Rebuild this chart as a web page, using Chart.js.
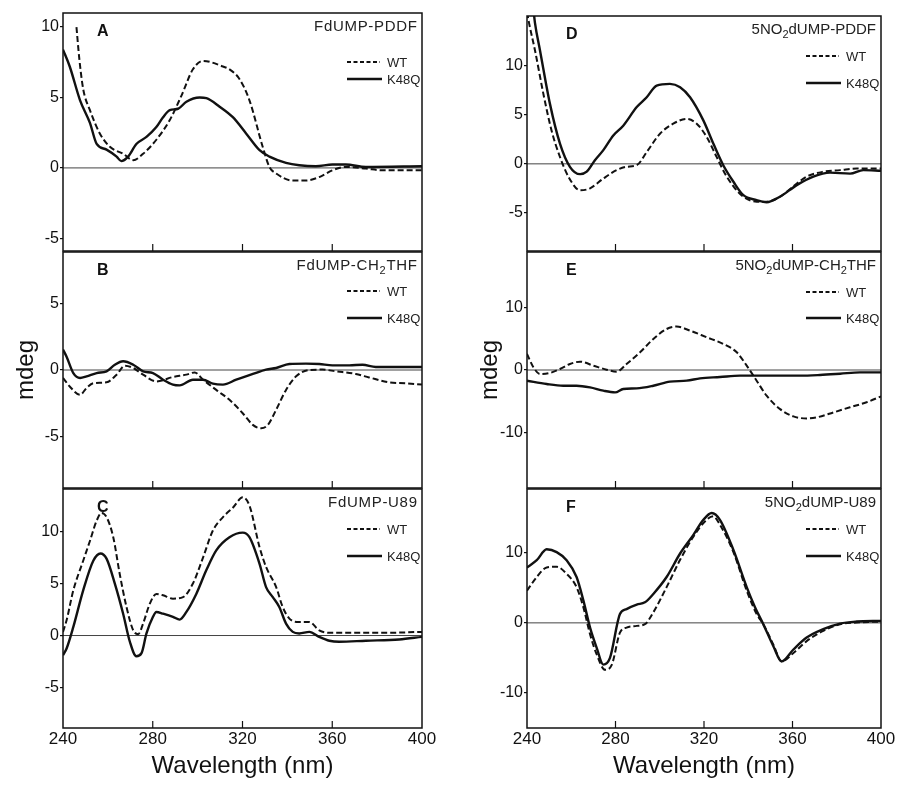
<!DOCTYPE html>
<html>
<head>
<meta charset="utf-8">
<script src="https://cdn.jsdelivr.net/npm/chart.js@4.4.0/dist/chart.umd.min.js"></script>
<style>
  body { margin: 0; background: #fff; }
  #fig { position: relative; width: 904px; height: 789px; overflow: hidden; }
  #fig canvas { position: absolute; }
</style>
</head>
<body>
<div id="fig"></div>
<script>
// Eje x comun
const xTicks = [240, 280, 320, 360, 400]

// Panel A: FdUMP-PDDF
const wlA_wt = [246, 247.3, 249, 252, 256.4, 260.9, 266.8, 271.3, 275.7, 281.6, 287.6, 292.7, 297.9, 302.4, 311.3, 314.2, 318.7, 323.1, 329, 332, 335, 342.4, 348.3, 354.2, 360.1, 366, 375, 382.4, 400]
const cdA_wt = [10, 7.7, 5.6, 4.1, 2.45, 1.5, 1.0, 0.55, 1.0, 2.0, 3.4, 5.1, 7.0, 7.6, 7.2, 7.0, 6.3, 4.8, 1.5, 0.07, -0.4, -0.9, -0.9, -0.65, -0.17, 0.07, -0.05, -0.17, -0.17]
const wlA_mut = [240, 243, 247.6, 252, 255, 259.4, 263.9, 266, 269, 272.7, 277.2, 281.6, 284.6, 287.6, 291.3, 295, 300.9, 303.9, 309.8, 315.7, 321.6, 327.6, 332, 339.4, 345.3, 352.7, 360.1, 366, 375, 400]
const cdA_mut = [8.4, 7.2, 4.8, 3.2, 1.7, 1.3, 0.8, 0.48, 0.8, 1.7, 2.2, 2.9, 3.6, 4.1, 4.2, 4.7, 5.0, 4.95, 4.35, 3.6, 2.45, 1.26, 0.8, 0.36, 0.19, 0.12, 0.24, 0.24, 0.07, 0.12]
const ticksA = [-5, 0, 5, 10]

// Panel B: FdUMP-CH2THF
const wlB_wt = [240, 243, 247.6, 250.5, 253.5, 259.4, 263.9, 267.6, 271.3, 275.7, 281.6, 289, 295, 298.7, 302.4, 308.3, 314.2, 320.1, 324.6, 328.3, 331.3, 335, 339.4, 343.9, 349.8, 355.7, 361.6, 370.5, 376.4, 385.3, 392.7, 400]
const cdB_wt = [-0.6, -1.24, -1.87, -1.36, -1.0, -0.93, -0.35, 0.33, 0.15, -0.35, -0.86, -0.53, -0.35, -0.18, -0.73, -1.5, -2.25, -3.26, -4.14, -4.4, -4.14, -3.0, -1.5, -0.48, 0, 0.03, -0.1, -0.3, -0.56, -0.93, -1.0, -1.1]
const wlB_mut = [240, 241.6, 244.6, 247.6, 250.5, 255, 259.4, 263.1, 266.8, 271.3, 275.7, 280.1, 284.6, 289, 292, 297.9, 302.4, 306.8, 311.3, 317.2, 324.6, 330.5, 335, 340.9, 348.3, 354.2, 360.1, 367.6, 373.5, 379.4, 386.8, 400]
const cdB_mut = [1.54, 1.0, -0.23, -0.6, -0.48, -0.23, -0.1, 0.4, 0.66, 0.4, -0.1, -0.23, -0.73, -1.1, -1.16, -0.73, -0.73, -1.03, -1.1, -0.73, -0.3, 0.03, 0.15, 0.45, 0.48, 0.45, 0.35, 0.35, 0.4, 0.23, 0.23, 0.23]
const ticksB = [-5, 0, 5]

// Panel C: FdUMP-U89
const wlC_wt = [240, 241.6, 244.6, 249, 252, 255, 257.2, 259.4, 262.4, 265.3, 268.3, 271.3, 273.5, 275.7, 278.7, 281.6, 284.6, 289, 293.5, 297.9, 302.4, 306.8, 311.3, 315.7, 320.1, 323.1, 327.6, 330.5, 335, 337.9, 340.9, 345.3, 349.8, 354.2, 358.7, 367.6, 382.4, 400]
const cdC_wt = [0.35, 1.47, 4.35, 7.2, 9.1, 11.05, 11.8, 11.4, 9.46, 5.9, 2.75, 0.5, 0.13, 1.15, 3.07, 4.0, 3.87, 3.55, 3.7, 5.0, 7.5, 10.1, 11.4, 12.3, 13.3, 12.5, 8.5, 6.6, 4.66, 2.75, 1.63, 1.3, 1.3, 0.5, 0.26, 0.26, 0.26, 0.35]
const wlC_mut = [240, 241.6, 244.6, 249, 253.5, 256.7, 259.4, 263.1, 266.8, 269.8, 272.7, 275, 277.2, 280.1, 281.6, 284.6, 289, 292, 295, 299.4, 303.9, 308.3, 314.2, 320.1, 323.1, 327.6, 330.5, 333.5, 336.4, 339.4, 342.4, 345.3, 349.8, 354.2, 358.7, 363.1, 375, 389.8, 400]
const cdC_mut = [-1.9, -1.25, 0.83, 4.35, 7.2, 7.9, 7.4, 5.0, 2.1, -0.6, -2.0, -1.7, 0.2, 1.8, 2.27, 2.1, 1.8, 1.53, 2.27, 4.0, 6.3, 8.2, 9.46, 9.9, 9.46, 6.9, 4.66, 3.7, 2.75, 1.15, 0.35, 0.2, 0.35, -0.13, -0.5, -0.6, -0.5, -0.38, -0.13]
const ticksC = [-5, 0, 5, 10]

// Panel D: 5NO2dUMP-PDDF
const wlD_wt = [240, 241, 243.6, 247.4, 251.1, 254.9, 258.7, 264, 268.5, 274.5, 280.5, 285, 289.6, 294.1, 300.1, 306.1, 312.2, 316.7, 321.2, 325.7, 329.5, 333.3, 337.8, 343.8, 348.3, 354.3, 360.4, 366.4, 373.9, 381.5, 389, 400]
const cdD_wt = [15.5, 14.3, 11.6, 7.15, 3.4, 0.7, -1.3, -2.7, -2.5, -1.5, -0.64, -0.3, -0.14, 1.2, 3.08, 4.1, 4.6, 4.1, 2.75, 0.71, -1.0, -2.3, -3.36, -3.86, -3.86, -3.36, -2.3, -1.3, -0.8, -0.64, -0.47, -0.47]
const wlD_mut = [242.8, 243.6, 245.9, 250.4, 254.9, 259.4, 264, 267, 270.7, 274.5, 279, 283.5, 289.6, 294.1, 298.6, 304.6, 309.2, 313.7, 319.7, 324.2, 328.7, 333.3, 337.8, 343.8, 348.3, 354.3, 361.9, 369.4, 377, 386, 392, 400]
const cdD_mut = [16, 14.4, 11.56, 6.1, 2.07, -0.3, -1.05, -0.8, 0.37, 1.4, 2.9, 3.9, 5.8, 6.8, 8.0, 8.17, 7.83, 6.8, 4.44, 2.07, -0.14, -1.83, -3.2, -3.7, -3.93, -3.36, -2.17, -1.3, -0.9, -1.0, -0.64, -0.7]
const ticksD = [-5, 0, 5, 10]

// Panel E: 5NO2dUMP-CH2THF
const wlE_wt = [240, 242.9, 245.9, 250.4, 254.9, 259.4, 264, 270, 276, 280.5, 285, 291.1, 297.1, 303.1, 307.6, 313.7, 321.2, 328.7, 334.8, 339.3, 343.8, 348.3, 354.4, 360.4, 366.4, 370.9, 378.5, 386, 393.5, 400]
const cdE_wt = [2.6, 0.43, -0.65, -0.48, 0.16, 0.97, 1.34, 0.7, 0.05, -0.27, 0.97, 2.85, 5.0, 6.6, 7.0, 6.34, 5.27, 4.2, 2.85, 0.7, -1.72, -4.14, -6.3, -7.47, -7.8, -7.63, -6.83, -6.0, -5.2, -4.25]
const wlE_mut = [240, 248.9, 256.4, 262.4, 268.5, 274.5, 279.8, 283.5, 289.6, 297.1, 304.6, 312.2, 318.2, 327.2, 336.3, 345.3, 354.4, 363.4, 372.4, 381.5, 390.5, 400]
const cdE_mut = [-1.72, -2.26, -2.53, -2.53, -2.8, -3.33, -3.6, -3.06, -2.96, -2.53, -1.88, -1.72, -1.34, -1.13, -0.91, -0.91, -0.91, -0.91, -0.8, -0.6, -0.38, -0.38]
const ticksE = [-10, 0, 10]

// Panel F: 5NO2dUMP-U89
const wlF_wt = [240, 244.4, 248.9, 253.4, 257.9, 262.4, 265.5, 268.5, 271.5, 275.3, 278.3, 282, 285, 289.6, 293.3, 297.1, 303.1, 309.2, 315.2, 321.2, 324.2, 327.2, 333.3, 339.3, 343.8, 346.8, 351.3, 355.1, 360.4, 366.4, 373.9, 381.5, 389, 400]
const cdF_wt = [4.6, 6.54, 7.9, 8.0, 7.0, 5.1, 2.2, -1.63, -4.5, -6.7, -6.0, -1.4, -0.67, -0.43, -0.19, 1.5, 5.1, 9.0, 12.3, 14.7, 15.2, 14.0, 10.1, 4.6, 1.25, -0.19, -3.08, -5.5, -4.3, -2.6, -1.15, -0.19, 0.05, 0.19]
const wlF_mut = [240, 244.4, 248.9, 253.4, 257.9, 262.4, 265.5, 268.5, 271.5, 274.5, 277.5, 282, 285, 289.6, 293.3, 297.1, 303.1, 309.2, 315.2, 319.7, 323.5, 327.2, 333.3, 339.3, 343.1, 346.8, 351.3, 355.1, 360.4, 366.4, 373.9, 381.5, 389, 400]
const cdF_mut = [7.9, 8.94, 10.5, 10.1, 8.94, 6.54, 3.17, -0.67, -3.56, -5.96, -5.0, 1.25, 1.97, 2.6, 2.93, 4.13, 6.54, 9.9, 12.55, 14.7, 15.67, 14.7, 10.4, 5.1, 2.2, -0.19, -3.3, -5.5, -3.8, -2.1, -0.9, -0.1, 0.19, 0.29]
const ticksF = [-10, 0, 10]

Chart.defaults.font.family = '"Liberation Sans", Arial, sans-serif'
Chart.defaults.color = '#111'

const FONT = '"Liberation Sans", Arial, sans-serif'

// Layout de los seis paneles (posicion del canvas en la pagina)
const panels = [
  { letter: 'A', title: 'FdUMP-PDDF', left: 0, top: 11, w: 442, h: 242, yMin: -5.9, yMax: 11, yTicks: ticksA,
    wt: [wlA_wt, cdA_wt], mut: [wlA_mut, cdA_mut], legY: [49, 66], col: 0 },
  { letter: 'B', title: 'FdUMP-CH₂THF', left: 0, top: 250, w: 442, h: 240, yMin: -8.9, yMax: 8.9, yTicks: ticksB,
    wt: [wlB_wt, cdB_wt], mut: [wlB_mut, cdB_mut], legY: [39, 66], col: 0, yTitle: true },
  { letter: 'C', title: 'FdUMP-U89', left: 0, top: 487, w: 442, h: 302, yMin: -8.9, yMax: 14.1, yTicks: ticksC,
    wt: [wlC_wt, cdC_wt], mut: [wlC_mut, cdC_mut], legY: [40, 67], col: 0, bottom: true },
  { letter: 'D', title: '5NO₂dUMP-PDDF', left: 464, top: 14, w: 437, h: 239, yMin: -8.9, yMax: 15.1, yTicks: ticksD,
    wt: [wlD_wt, cdD_wt], mut: [wlD_mut, cdD_mut], legY: [40, 67], col: 1 },
  { letter: 'E', title: '5NO₂dUMP-CH₂THF', left: 464, top: 250, w: 437, h: 240, yMin: -19, yMax: 19, yTicks: ticksE,
    wt: [wlE_wt, cdE_wt], mut: [wlE_mut, cdE_mut], legY: [40, 66], col: 1, yTitle: true },
  { letter: 'F', title: '5NO₂dUMP-U89', left: 464, top: 487, w: 437, h: 302, yMin: -15, yMax: 19.1, yTicks: ticksF,
    wt: [wlF_wt, cdF_wt], mut: [wlF_mut, cdF_mut], legY: [40, 67], col: 1, bottom: true }
]

// Texto con subindices (₂) dibujado a la derecha
function drawTitle(ctx, text, right, base, size, spacing) {
  const parts = [...text].map(ch => ch === '₂' ? { t: '2', sub: true } : { t: ch, sub: false })
  const big = size + 'px ' + FONT
  const small = Math.round(size * 0.72) + 'px ' + FONT
  let total = 0
  parts.forEach(p => {
    ctx.font = p.sub ? small : big
    p.w = ctx.measureText(p.t).width + spacing
    total += p.w
  })
  let xx = right - total + spacing
  ctx.textAlign = 'left'
  ctx.textBaseline = 'alphabetic'
  parts.forEach(p => {
    ctx.font = p.sub ? small : big
    ctx.fillText(p.t, xx, base + (p.sub ? 4 : 0))
    xx += p.w
  })
}

const panelDecor = {
  id: 'panelDecor',
  beforeDatasetsDraw(chart, args, opts) {
    const { ctx, chartArea: a, scales: { y } } = chart
    const y0 = y.getPixelForValue(0)
    ctx.save()
    ctx.strokeStyle = '#444'
    ctx.lineWidth = 1
    ctx.beginPath()
    ctx.moveTo(a.left, y0)
    ctx.lineTo(a.right, y0)
    ctx.stroke()
    ctx.restore()
  },
  afterDraw(chart, args, opts) {
    const { ctx, chartArea: a, scales: { x } } = chart
    ctx.save()
    // marco
    ctx.strokeStyle = '#111'
    ctx.lineWidth = 1.5
    ctx.strokeRect(a.left, a.top, a.right - a.left, a.bottom - a.top)
    // ticks internos en el eje x
    ctx.lineWidth = 1.2
    x.ticks.map(t => t.value).filter(v => v > x.min && v < x.max).forEach(v => {
      const px = x.getPixelForValue(v)
      ctx.beginPath()
      ctx.moveTo(px, a.bottom)
      ctx.lineTo(px, a.bottom - 7)
      ctx.stroke()
    })
    // letra del panel
    ctx.fillStyle = '#111'
    ctx.font = 'bold 16px ' + FONT
    ctx.textAlign = 'left'
    ctx.textBaseline = 'alphabetic'
    ctx.fillText(opts.letter, a.left + (opts.col ? 39 : 34), a.top + 23)
    // titulo
    ctx.fillStyle = '#222'
    drawTitle(ctx, opts.title, a.right - 5, a.top + 18, 15, opts.col ? 0 : 0.7)
    // leyenda
    const [yWt, yMut] = opts.legY
    ctx.strokeStyle = '#111'
    ctx.lineWidth = 2
    ctx.setLineDash([4, 2.5])
    ctx.beginPath()
    ctx.moveTo(a.right - 75, a.top + yWt)
    ctx.lineTo(a.right - 42, a.top + yWt)
    ctx.stroke()
    ctx.setLineDash([])
    ctx.lineWidth = 2.6
    ctx.beginPath()
    ctx.moveTo(a.right - 75, a.top + yMut)
    ctx.lineTo(a.right - 40, a.top + yMut)
    ctx.stroke()
    ctx.font = '13px ' + FONT
    ctx.textBaseline = 'middle'
    ctx.fillText('WT', a.right - 35, a.top + yWt + 1)
    ctx.fillText('K48Q', a.right - 35, a.top + yMut + 1)
    ctx.restore()
  }
}

function toPoints(xs, ys) {
  return xs.map((v, i) => ({ x: v, y: ys[i] }))
}

// quitar el relleno que Chart.js reserva para las etiquetas extremas
function noPad(s) {
  s.paddingTop = 0
  s.paddingBottom = 0
  s.paddingLeft = 0
  s.paddingRight = 0
}

const fig = document.getElementById('fig')

panels.forEach(p => {
  const cv = document.createElement('canvas')
  cv.width = p.w
  cv.height = p.h
  cv.style.left = p.left + 'px'
  cv.style.top = p.top + 'px'
  cv.style.width = p.w + 'px'
  cv.style.height = p.h + 'px'
  fig.appendChild(cv)

  new Chart(cv, {
    type: 'line',
    data: {
      datasets: [
        {
          label: 'WT',
          data: toPoints(p.wt[0], p.wt[1]),
          borderColor: '#111',
          borderWidth: 2,
          borderDash: [6, 3],
          pointRadius: 0,
          cubicInterpolationMode: 'monotone',
          fill: false
        },
        {
          label: 'K48Q',
          data: toPoints(p.mut[0], p.mut[1]),
          borderColor: '#111',
          borderWidth: 2.4,
          pointRadius: 0,
          cubicInterpolationMode: 'monotone',
          fill: false
        }
      ]
    },
    options: {
      responsive: false,
      animation: false,
      devicePixelRatio: 1,
      layout: { padding: { top: 2, right: 20, bottom: p.bottom ? 0 : 2, left: 0 } },
      plugins: {
        legend: { display: false },
        tooltip: { enabled: false },
        panelDecor: { letter: p.letter, title: p.title, legY: p.legY, col: p.col }
      },
      scales: {
        x: {
          type: 'linear',
          min: 240,
          max: 400,
          afterBuildTicks: s => { s.ticks = xTicks.map(v => ({ value: v })) },
          afterFit: s => { s.height = p.bottom ? 61 : 0; noPad(s) },
          grid: { display: false, drawTicks: false },
          border: { display: false },
          ticks: { display: !!p.bottom, padding: 1, font: { size: 17 }, color: '#111', maxRotation: 0 },
          title: { display: !!p.bottom, text: 'Wavelength (nm)', font: { size: 24 }, color: '#111', padding: { top: 0, bottom: 8 } }
        },
        y: {
          type: 'linear',
          min: p.yMin,
          max: p.yMax,
          afterBuildTicks: s => { s.ticks = p.yTicks.map(v => ({ value: v })) },
          afterFit: s => { s.width = 63; noPad(s) },
          grid: { drawOnChartArea: false, drawTicks: true, tickLength: 3, color: '#111', lineWidth: 1.2 },
          border: { display: false },
          ticks: { padding: 1, font: { size: 16 }, color: '#111' },
          title: { display: !!p.yTitle, text: 'mdeg', font: { size: 24 }, color: '#111', padding: { top: 12, bottom: 0 } }
        }
      }
    },
    plugins: [panelDecor]
  })
})
</script>
</body>
</html>
